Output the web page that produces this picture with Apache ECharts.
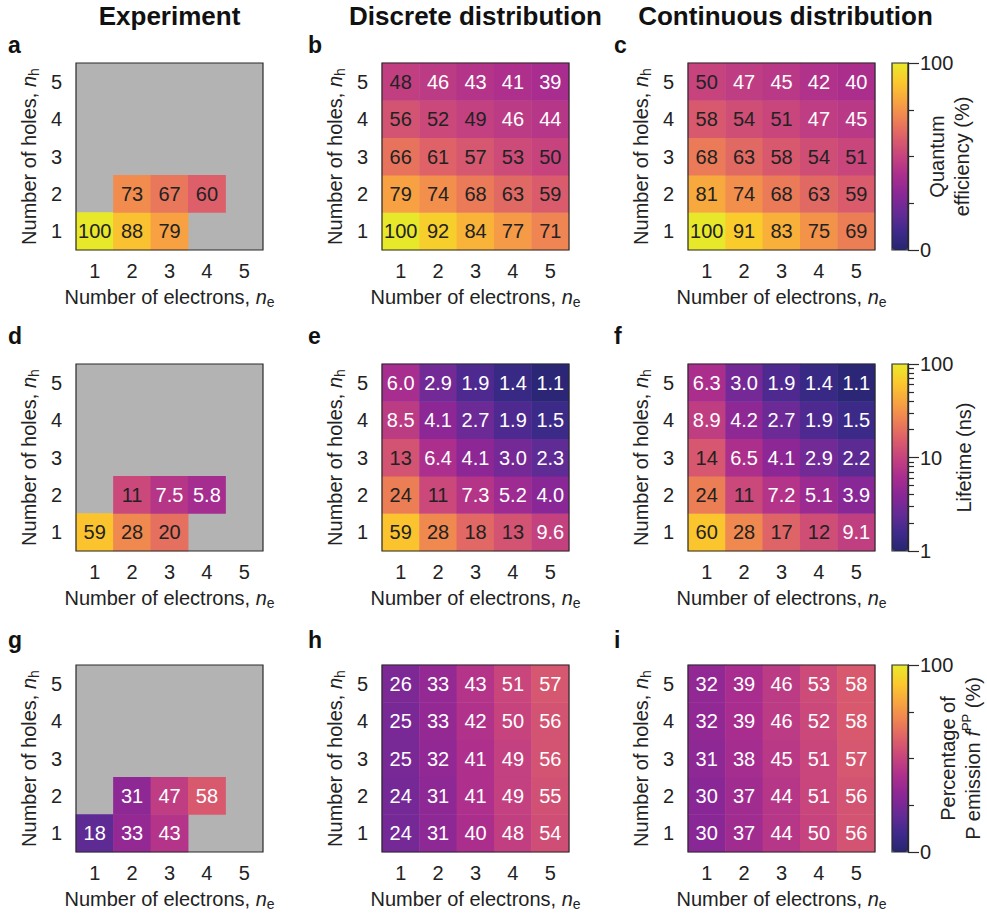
<!DOCTYPE html>
<html><head><meta charset="utf-8">
<script src="https://cdn.jsdelivr.net/npm/echarts@6/dist/echarts.min.js"></script>
<style>html,body{margin:0;padding:0;background:#fff}#c{width:987px;height:917px}</style>
</head><body><div id="c"></div>
<script>
// ---------------- DATA ----------------
const electrons = ['1', '2', '3', '4', '5'];   // n_e (x)
const holes = ['1', '2', '3', '4', '5'];       // n_h (y), bottom to top
const columnTitles = ['Experiment', 'Discrete distribution', 'Continuous distribution'];
const panelLetters = ['a', 'b', 'c', 'd', 'e', 'f', 'g', 'h', 'i'];

// each array: rows n_h = 1..5, columns n_e = 1..5 ; null = not measured
const qeExperiment = [
  [100, 88, 79, null, null],
  [null, 73, 67, 60, null],
  [null, null, null, null, null],
  [null, null, null, null, null],
  [null, null, null, null, null]
];
const qeDiscrete = [
  [100, 92, 84, 77, 71],
  [79, 74, 68, 63, 59],
  [66, 61, 57, 53, 50],
  [56, 52, 49, 46, 44],
  [48, 46, 43, 41, 39]
];
const qeContinuous = [
  [100, 91, 83, 75, 69],
  [81, 74, 68, 63, 59],
  [68, 63, 58, 54, 51],
  [58, 54, 51, 47, 45],
  [50, 47, 45, 42, 40]
];
const lifetimeExperiment = [
  [59, 28, 20, null, null],
  [null, 11, 7.5, 5.8, null],
  [null, null, null, null, null],
  [null, null, null, null, null],
  [null, null, null, null, null]
];
const lifetimeDiscrete = [
  [59, 28, 18, 13, 9.6],
  [24, 11, 7.3, 5.2, 4.0],
  [13, 6.4, 4.1, 3.0, 2.3],
  [8.5, 4.1, 2.7, 1.9, 1.5],
  [6.0, 2.9, 1.9, 1.4, 1.1]
];
const lifetimeContinuous = [
  [60, 28, 17, 12, 9.1],
  [24, 11, 7.2, 5.1, 3.9],
  [14, 6.5, 4.1, 2.9, 2.2],
  [8.9, 4.2, 2.7, 1.9, 1.5],
  [6.3, 3.0, 1.9, 1.4, 1.1]
];
const ppExperiment = [
  [18, 33, 43, null, null],
  [null, 31, 47, 58, null],
  [null, null, null, null, null],
  [null, null, null, null, null],
  [null, null, null, null, null]
];
const ppDiscrete = [
  [24, 31, 40, 48, 54],
  [24, 31, 41, 49, 55],
  [25, 32, 41, 49, 56],
  [25, 33, 42, 50, 56],
  [26, 33, 43, 51, 57]
];
const ppContinuous = [
  [30, 37, 44, 50, 56],
  [30, 37, 44, 51, 56],
  [31, 38, 45, 51, 57],
  [32, 39, 46, 52, 58],
  [32, 39, 46, 53, 58]
];

// colour-bar ticks
const qeTicksMajor = [0, 100];
const qeTicksMinor = [25, 50, 75];
const lifetimeTicksMajor = [1, 10, 100];
const lifetimeTicksMinor = [2, 3, 4, 5, 6, 7, 8, 9, 20, 30, 40, 50, 60, 70, 80, 90];
const ppTicksMajor = [0, 100];
const ppTicksMinor = [25, 50, 75];

// ---------------- STYLE / LAYOUT ----------------
const FONT = '"Liberation Sans", Arial, Helvetica, sans-serif';
const FS = 20;
const TXT = '#222';
const plasma = ['#262670', '#3f2a8c', '#662b96', '#8a2796', '#ab2e8d', '#c6437e',
                '#dc5f6a', '#ee8154', '#f8a540', '#fbc92c', '#e8e82a'];
const colLeft = [76, 382, 688];
const rowTop = [63, 364, 665];
const SIZE = 187;
const cbLeft = 892, cbWidth = 16;
const LINE = '#2a2a2a';

const richName = {
  i: { fontStyle: 'italic', fontSize: FS, fontFamily: FONT, color: TXT, lineHeight: 25 },
  sub: { fontSize: 14, fontFamily: FONT, color: TXT, verticalAlign: 'bottom', lineHeight: 14 },
  sup: { fontSize: 13, fontFamily: FONT, color: TXT, verticalAlign: 'top', lineHeight: 13 }
};
const nameStyle = { fontSize: FS, fontFamily: FONT, color: TXT, lineHeight: 25, rich: richName };

const rows = [
  { panels: [qeExperiment, qeDiscrete, qeContinuous], log: false, min: 0, max: 100,
    whiteBelow: 48, major: qeTicksMajor, minor: qeTicksMinor,
    cbName: 'Quantum\nefficiency (%)', cbGap: 16 },
  { panels: [lifetimeExperiment, lifetimeDiscrete, lifetimeContinuous], log: true, min: 1, max: 100,
    whiteBelow: 10, major: lifetimeTicksMajor, minor: lifetimeTicksMinor,
    cbName: 'Lifetime (ns)', cbGap: 43 },
  { panels: [ppExperiment, ppDiscrete, ppContinuous], log: false, min: 0, max: 100,
    whiteBelow: 1000, major: ppTicksMajor, minor: ppTicksMinor,
    cbName: 'Percentage of\nP emission {i|f}{sup|PP} (%)', cbGap: 27 }
];

function fmtValue(v, log) {
  if (log && v < 10) return v.toFixed(1);
  return String(Math.round(v));
}

const grid = [], xAxis = [], yAxis = [], series = [], visualMap = [], graphic = [];

function addHiddenGrid(left, top, w, h, bg) {
  const gi = grid.length;
  grid.push({ left, top, width: w, height: h, show: true, z: 0, backgroundColor: bg,
    borderWidth: 0, borderColor: 'transparent', outerBoundsMode: 'none' });
  xAxis.push({ gridIndex: gi, type: 'value', show: false, min: 0, max: 1 });
  yAxis.push({ gridIndex: gi, type: 'value', show: false, min: 0, max: 1 });
}

rows.forEach((row, r) => {
  const tr = row.log ? (v => Math.log10(v)) : (v => v);
  row.panels.forEach((mat, c) => {
    if (c === 0) addHiddenGrid(colLeft[c], rowTop[r], SIZE, SIZE, '#b3b3b3');
    const gi = grid.length;
    grid.push({ left: colLeft[c], top: rowTop[r], width: SIZE, height: SIZE, show: true, z: 10,
      backgroundColor: 'transparent', borderColor: LINE, borderWidth: 1.2, outerBoundsMode: 'none' });
    const xi = xAxis.length, yi = yAxis.length;
    xAxis.push({
      gridIndex: gi, type: 'category', data: electrons,
      name: 'Number of electrons, {i|n}{sub|e}', nameLocation: 'middle', nameGap: 34,
      nameTextStyle: nameStyle,
      axisLine: { show: false }, axisTick: { show: false },
      axisLabel: { fontSize: FS, fontFamily: FONT, color: TXT, margin: 11 },
      splitLine: { show: false }, splitArea: { show: false }
    });
    yAxis.push({
      gridIndex: gi, type: 'category', data: holes,
      name: 'Number of holes, {i|n}{sub|h}', nameLocation: 'middle', nameGap: 35, nameRotate: 90,
      nameTextStyle: nameStyle,
      axisLine: { show: false }, axisTick: { show: false },
      axisLabel: { fontSize: FS, fontFamily: FONT, color: TXT, margin: 14 },
      splitLine: { show: false }, splitArea: { show: false }
    });
    const data = [];
    mat.forEach((rowVals, j) => rowVals.forEach((v, k) => {
      if (v === null) return;
      data.push({ value: [k, j, v, tr(v)], label: { color: v < row.whiteBelow ? '#ffffff' : '#222222' } });
    }));
    series.push({
      type: 'heatmap', xAxisIndex: xi, yAxisIndex: yi, data,
      label: { show: true, fontSize: FS, fontFamily: FONT,
        formatter: p => fmtValue(p.value[2], row.log) },
      itemStyle: { borderWidth: 0 },
      emphasis: { disabled: true }
    });
    graphic.push({ type: 'text', x: colLeft[c] - 68 + (c === 0 ? 0 : -6), y: [45, 336, 640][r],
      style: { text: panelLetters[r * 3 + c], font: 'bold 23px ' + FONT, fill: '#111',
        align: 'left', verticalAlign: 'middle' } });
  });

  visualMap.push({
    type: 'continuous', seriesIndex: [r * 3, r * 3 + 1, r * 3 + 2], dimension: 3,
    min: tr(row.min), max: tr(row.max), calculable: false, hoverLink: false,
    left: cbLeft, top: rowTop[r], itemWidth: cbWidth, itemHeight: SIZE, padding: 0,
    text: null, showLabel: false, inRange: { color: plasma }
  });

  // colour bar frame + tick axes
  const gi = grid.length;
  grid.push({ left: cbLeft, top: rowTop[r], width: cbWidth, height: SIZE, show: true, z: 10,
    backgroundColor: 'transparent', borderColor: LINE, borderWidth: 1.2, outerBoundsMode: 'none' });
  xAxis.push({ gridIndex: gi, type: 'value', show: false, min: 0, max: 1 });
  const lo = tr(row.min), hi = tr(row.max);
  const majorInterval = tr(row.major[1]) - tr(row.major[0]);
  yAxis.push({
    gridIndex: gi, type: 'value', position: 'right', min: lo, max: hi, interval: majorInterval,
    axisLine: { show: true, onZero: false, lineStyle: { color: LINE, width: 1.2 } },
    axisTick: { show: true, length: 11, lineStyle: { color: LINE, width: 1.2 } },
    axisLabel: { show: true, fontSize: FS, fontFamily: FONT, color: TXT, margin: 12,
      formatter: v => String(Math.round(row.log ? Math.pow(10, v) : v)) },
    splitLine: { show: false },
    name: row.cbName, nameLocation: 'middle', nameRotate: 90, nameGap: row.cbGap,
    nameMoveOverlap: false,
    nameTextStyle: nameStyle,
    z: 11
  });
  // minor ticks from the named minor-tick lists
  yAxis.push({
    gridIndex: gi, type: 'value', position: 'right', min: lo, max: hi, interval: majorInterval,
    axisLine: { show: true, onZero: false, lineStyle: { color: LINE, width: 1.2 } },
    axisTick: { show: true, length: 6, customValues: row.minor.map(tr), lineStyle: { color: LINE, width: 1.2 } },
    axisLabel: { show: false }, splitLine: { show: false }, z: 11
  });
});

columnTitles.forEach((t, c) => {
  graphic.push({ type: 'text', x: colLeft[c] + SIZE / 2 + (c === 2 ? 4 : 0), y: 16,
    style: { text: t, font: 'bold 26px ' + FONT, fill: '#111', align: 'center', verticalAlign: 'middle' } });
});

const chart = echarts.init(document.getElementById('c'), null, { renderer: 'svg' });
chart.setOption({
  backgroundColor: '#ffffff',
  animation: false,
  grid, xAxis, yAxis, series, visualMap, graphic
});
</script></body></html>
